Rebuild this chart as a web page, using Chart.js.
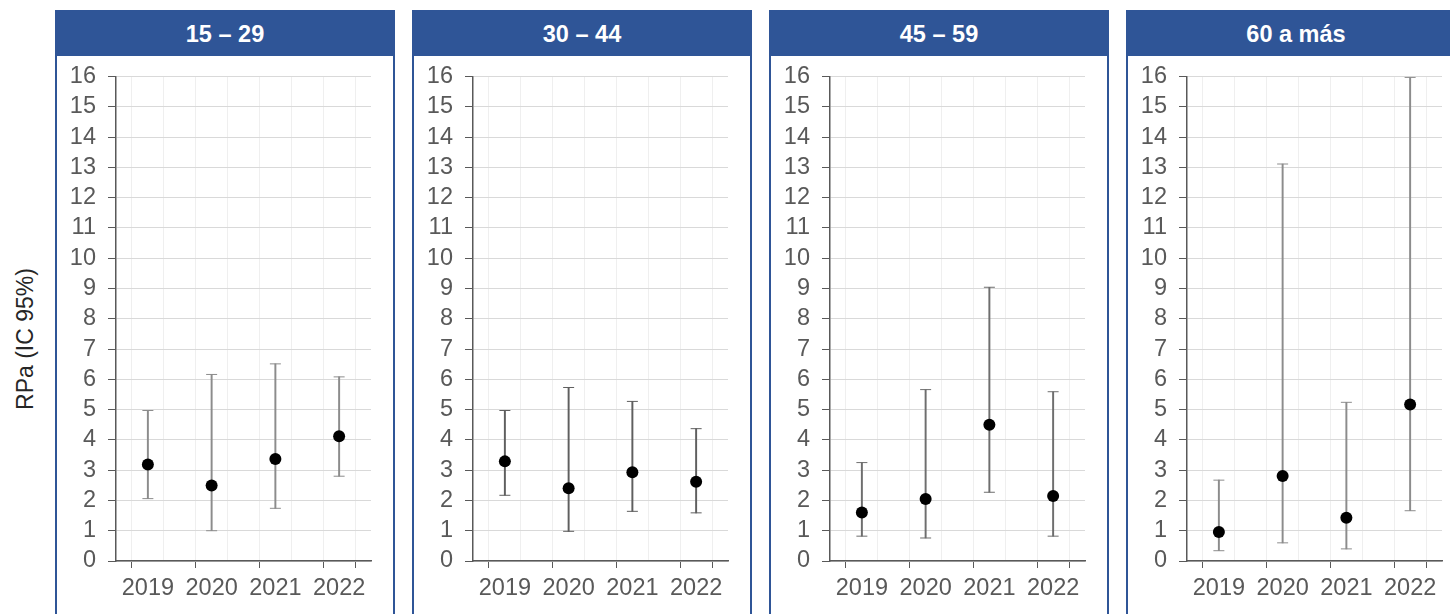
<!DOCTYPE html>
<html lang="es">
<head>
<meta charset="utf-8">
<script src="https://cdn.jsdelivr.net/npm/chart.js@4.4.1/dist/chart.umd.min.js"></script>
<style>
  html, body { margin: 0; padding: 0; background: #ffffff; width: 1450px; height: 614px; overflow: hidden; }
  body { position: relative; font-family: "Liberation Sans", Arial, sans-serif; }
  .panel { position: absolute; top: 10px; width: 340px; height: 640px; box-sizing: border-box;
           border: 2px solid #2F5597; background: #ffffff; }
  .panel .head { position: absolute; left: 0; top: 0; right: 0; height: 44px; background: #2F5597;
           color: #ffffff; font-weight: bold; font-size: 23.5px; line-height: 44px; text-align: center; }
  .panel .body { position: absolute; left: 0; top: 44px; width: 336px; height: 558px; }
  .ytitle { position: absolute; left: 25px; top: 339px; transform: translate(-50%, -50%) rotate(-90deg);
            font-size: 23px; color: #262626; white-space: nowrap; }
</style>
</head>
<body>
<div class="ytitle">RPa (IC 95%)</div>
<div id="panels"></div>
<script>
// Age groups and survey years
const groups = ['15 – 29', '30 – 44', '45 – 59', '60 a más'];
const categories = ['2019', '2020', '2021', '2022'];
const yTicks = [0, 1, 2, 3, 4, 5, 6, 7, 8, 9, 10, 11, 12, 13, 14, 15, 16];

// Adjusted prevalence ratio (RPa) and 95% CI bounds, per age group
const rpa15_29 = [3.19, 2.49, 3.37, 4.12];
const low15_29 = [2.06, 1.00, 1.74, 2.80];
const upp15_29 = [4.97, 6.16, 6.51, 6.08];

const rpa30_44 = [3.29, 2.40, 2.93, 2.62];
const low30_44 = [2.17, 0.98, 1.64, 1.59];
const upp30_44 = [4.97, 5.73, 5.27, 4.37];

const rpa45_59 = [1.60, 2.05, 4.50, 2.15];
const low45_59 = [0.82, 0.76, 2.27, 0.82];
const upp45_59 = [3.25, 5.66, 9.04, 5.59];

const rpa60 = [0.96, 2.81, 1.43, 5.17];
const low60 = [0.34, 0.60, 0.40, 1.66];
const upp60 = [2.67, 13.11, 5.24, 15.97];

const series = [
  { rpa: rpa15_29, low: low15_29, upp: upp15_29, whisker: '#8c8c8c' },
  { rpa: rpa30_44, low: low30_44, upp: upp30_44, whisker: '#5f5f5f' },
  { rpa: rpa45_59, low: low45_59, upp: upp45_59, whisker: '#6e6e6e' },
  { rpa: rpa60,    low: low60,    upp: upp60,    whisker: '#8c8c8c' }
];

const panelLeft = [55, 412, 769, 1126];
const axisGrey = '#595959';
const font = { family: '"Liberation Sans", Arial, sans-serif', size: 23.5 };

const holder = document.getElementById('panels');

groups.forEach((name, g) => {
  const panel = document.createElement('div');
  panel.className = 'panel';
  panel.style.left = panelLeft[g] + 'px';
  const head = document.createElement('div');
  head.className = 'head';
  head.textContent = name;
  const body = document.createElement('div');
  body.className = 'body';
  const canvas = document.createElement('canvas');
  body.appendChild(canvas);
  panel.appendChild(head);
  panel.appendChild(body);
  holder.appendChild(panel);

  const s = series[g];
  const pos = categories.map((c, i) => i + 1);

  new Chart(canvas, {
    type: 'bar',
    data: {
      datasets: [
        {
          // point estimate
          type: 'line',
          data: pos.map((x, i) => ({ x, y: s.rpa[i] })),
          showLine: false,
          pointRadius: 6,
          pointBorderWidth: 0,
          pointBackgroundColor: '#000000',
          order: 0
        },
        {
          // upper CI cap
          type: 'line',
          data: pos.map((x, i) => ({ x, y: s.upp[i] })),
          showLine: false,
          pointStyle: 'line',
          pointRadius: 5.5,
          pointBorderWidth: 1,
          pointBorderColor: s.whisker,
          order: 1
        },
        {
          // lower CI cap
          type: 'line',
          data: pos.map((x, i) => ({ x, y: s.low[i] })),
          showLine: false,
          pointStyle: 'line',
          pointRadius: 5.5,
          pointBorderWidth: 1,
          pointBorderColor: s.whisker,
          order: 1
        },
        {
          // CI range
          type: 'bar',
          data: pos.map((x, i) => ({ x, y: [s.low[i], s.upp[i]] })),
          backgroundColor: s.whisker,
          borderWidth: 0,
          barThickness: 1.3,
          order: 2
        }
      ]
    },
    options: {
      responsive: true,
      maintainAspectRatio: false,
      animation: false,
      events: [],
      layout: { autoPadding: false, padding: { top: 20.5, right: 22, bottom: 0, left: 0 } },
      plugins: { legend: { display: false }, tooltip: { enabled: false } },
      scales: {
        x: {
          type: 'linear',
          min: 0.5,
          max: 4.5,
          offset: false,
          afterBuildTicks: (scale) => {
            scale.ticks = [0.5, 1, 1.5, 2, 2.5, 3, 3.5, 4, 4.5].map(v => ({ value: v }));
          },
          afterFit: (scale) => { scale.height = 53; },
          border: { display: true, color: axisGrey, width: 1.5 },
          grid: {
            color: '#efefef',
            lineWidth: 1,
            tickLength: 7,
            tickColor: (ctx) => {
              const v = ctx.tick ? ctx.tick.value : 0;
              return (Number.isInteger(v) || v === 4.5) ? axisGrey : 'rgba(0,0,0,0)';
            }
          },
          ticks: {
            autoSkip: false,
            maxRotation: 0,
            padding: 6,
            color: axisGrey,
            font,
            callback: (v) => Number.isInteger(v) ? categories[v - 1] : ''
          }
        },
        y: {
          min: 0,
          max: 16,
          afterBuildTicks: (scale) => {
            scale.ticks = yTicks.map(v => ({ value: v }));
          },
          afterFit: (scale) => {
            scale.width = 59;
            scale.paddingTop = 0;
            scale.paddingBottom = 0;
          },
          border: { display: true, color: axisGrey, width: 1.5 },
          grid: { color: '#d9d9d9', lineWidth: 1, tickLength: 8, tickColor: axisGrey },
          ticks: { padding: 12, color: axisGrey, font, autoSkip: false }
        }
      }
    }
  });
});
</script>
</body>
</html>
